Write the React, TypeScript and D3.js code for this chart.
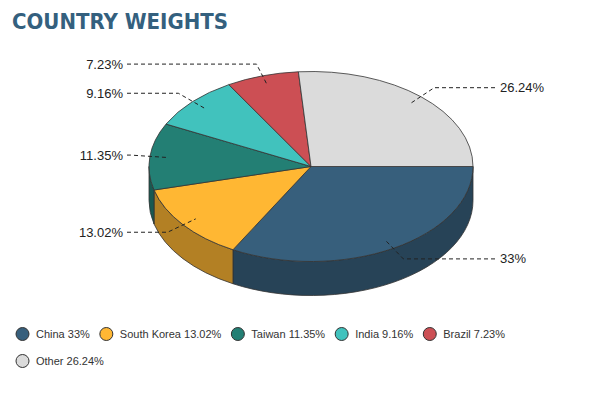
import React, { useEffect, useRef } from 'react';
import * as d3 from 'd3';

const countries = ['China', 'South Korea', 'Taiwan', 'India', 'Brazil', 'Other'];
const weights = [33, 13.02, 11.35, 9.16, 7.23, 26.24];
const colors = ['#375f7c', '#ffb733', '#237f74', '#41c2bd', '#cc4f54', '#dbdbdb'];

type Slice = { name: string; value: number; color: string };

const App: React.FC = () => {
    const ref = useRef<SVGSVGElement>(null);

    useEffect(() => {
        if (!ref.current) return;
        const svg = d3.select(ref.current);
        svg.selectAll('*').remove();

        const W = 601;
        const cx = 311, cy = 166.5, rx = 162, ry = 95, depth = 34;

        const data: Slice[] = countries.map((c, i) => ({ name: c, value: weights[i], color: colors[i] }));

        // d3 angles run from 12 o'clock; start the first slice at 3 o'clock
        const pie = d3.pie<Slice>().value(d => d.value).sort(null)
            .startAngle(Math.PI / 2).endAngle(Math.PI / 2 + 2 * Math.PI);
        const arcs = pie(data);
        const toScreen = (a: number) => a - Math.PI / 2;
        const pt = (t: number, k = 1, dy = 0): [number, number] =>
            [cx + rx * k * Math.cos(t), cy + ry * k * Math.sin(t) + dy];

        // title
        svg.append('text')
            .attr('x', 12).attr('y', 29)
            .attr('font-family', 'DejaVu Sans')
            .attr('font-stretch', 'condensed')
            .attr('font-weight', 'bold')
            .attr('font-size', 21)
            .attr('fill', '#34607e')
            .attr('textLength', 216)
            .attr('lengthAdjust', 'spacingAndGlyphs')
            .text('COUNTRY WEIGHTS');

        // side walls, front half only
        const walls = svg.append('g');
        arcs.forEach(a => {
            const t1 = Math.max(toScreen(a.startAngle), 0);
            const t2 = Math.min(toScreen(a.endAngle), Math.PI);
            if (t2 <= t1) return;
            const p1 = pt(t1), p2 = pt(t2), q1 = pt(t1, 1, depth), q2 = pt(t2, 1, depth);
            const path = `M${p1}A${rx},${ry} 0 0 1 ${p2}L${q2}A${rx},${ry} 0 0 0 ${q1}Z`;
            walls.append('path')
                .attr('d', path)
                .attr('fill', d3.color(a.data.color)!.darker(1).toString())
                .attr('stroke', '#333')
                .attr('stroke-width', 0.8)
                .attr('stroke-linejoin', 'round');
        });

        // top faces
        const tops = svg.append('g');
        arcs.forEach(a => {
            const t1 = toScreen(a.startAngle), t2 = toScreen(a.endAngle);
            const large = t2 - t1 > Math.PI ? 1 : 0;
            const path = `M${cx},${cy}L${pt(t1)}A${rx},${ry} 0 ${large} 1 ${pt(t2)}Z`;
            tops.append('path')
                .attr('d', path)
                .attr('fill', a.data.color)
                .attr('stroke', '#333')
                .attr('stroke-width', 0.8)
                .attr('stroke-linejoin', 'round');
        });

        // data labels with dashed connectors
        const labels = svg.append('g');
        arcs.forEach(a => {
            const mid = toScreen((a.startAngle + a.endAngle) / 2);
            const right = Math.cos(mid) > 0;
            const ly = cy + ry * Math.sin(mid) * 1.13;
            const bx = cx + rx * Math.cos(mid) * 1.12;
            const anchor = pt(mid, 0.9);
            const ex = right ? 495 : 127;
            labels.append('path')
                .attr('d', `M${ex},${ly}L${bx},${ly}L${anchor}`)
                .attr('fill', 'none')
                .attr('stroke', '#222')
                .attr('stroke-width', 1)
                .attr('stroke-dasharray', '4,3');
            labels.append('text')
                .attr('x', right ? 500 : 123)
                .attr('y', ly)
                .attr('dy', '0.35em')
                .attr('text-anchor', right ? 'start' : 'end')
                .attr('font-family', 'Liberation Sans, Arial, sans-serif')
                .attr('font-size', 13)
                .attr('fill', '#222')
                .text(`${a.data.value}%`);
        });

        // legend with wrapping
        const legend = svg.append('g');
        let x = 16, y = 334;
        const r = 6.5, gapText = 7, gapItem = 10, maxX = 590;
        data.forEach(d => {
            const g = legend.append('g');
            const txt = g.append('text')
                .attr('font-family', 'Liberation Sans, Arial, sans-serif')
                .attr('font-size', 11)
                .attr('fill', '#333')
                .attr('dy', '0.35em')
                .text(`${d.name} ${d.value}%`);
            const tw = (txt.node() as SVGTextElement).getComputedTextLength();
            const itemW = 2 * r + gapText + tw;
            if (x + itemW > maxX) { x = 16; y += 27; }
            g.append('circle')
                .attr('cx', x + r).attr('cy', y).attr('r', r)
                .attr('fill', d.color).attr('stroke', '#333').attr('stroke-width', 1);
            txt.attr('x', x + 2 * r + gapText).attr('y', y);
            x += itemW + gapItem;
        });
        void W;
    }, []);

    return (
        <svg ref={ref} width={601} height={394}
            style={{ position: 'absolute', left: 0, top: 0, display: 'block', background: '#fff' }} />
    );
};

export default App;
